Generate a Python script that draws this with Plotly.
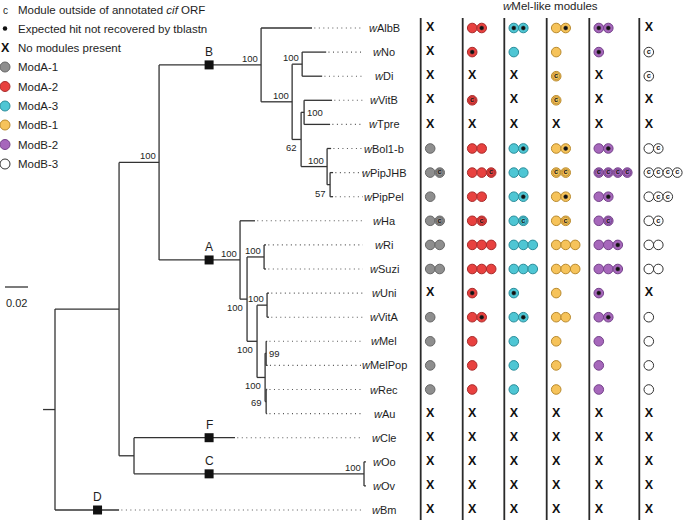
import plotly.graph_objects as go

# ---------------- data ----------------
taxa = ["wAlbB", "wNo", "wDi", "wVitB", "wTpre", "wBol1-b", "wPipJHB", "wPipPel",
        "wHa", "wRi", "wSuzi", "wUni", "wVitA", "wMel", "wMelPop", "wRec", "wAu",
        "wCle", "wOo", "wOv", "wBm"]

# (node, parent, branch length in substitutions/site)
tree_edges = [
    ("N1", "root", 0.0557), ("wBm", "root", 0.0557),
    ("N2", "N1", 0.0348), ("NFC", "N1", 0.0130),
    ("NB", "N2", 0.0887), ("NA", "N2", 0.0704),
    ("wAlbB", "NB", 0.0443), ("N3", "NB", 0.0270),
    ("N4", "N3", 0.0087), ("wNo", "N4", 0.0209), ("wDi", "N4", 0.0174),
    ("N5", "N3", 0.0078), ("N6", "N5", 0.0026),
    ("wVitB", "N6", 0.0243), ("wTpre", "N6", 0.0226),
    ("N7", "N5", 0.0226), ("wBol1-b", "N7", 0.0035), ("N8", "N7", 0.0026),
    ("wPipJHB", "N8", 0.0026), ("wPipPel", "N8", 0.0026),
    ("wHa", "NA", 0.0130), ("NRSM", "NA", 0.0061),
    ("NRS", "NRSM", 0.0148), ("wRi", "NRS", 0.0017), ("wSuzi", "NRS", 0.0017),
    ("NMel", "NRSM", 0.0087), ("NUV", "NMel", 0.0087),
    ("wUni", "NUV", 0.0017), ("wVitA", "NUV", 0.0017),
    ("M1", "NMel", 0.0070), ("MMP", "M1", 0.0009),
    ("wMel", "MMP", 0.0009), ("wMelPop", "MMP", 0.0013),
    ("M2", "M1", 0.0009), ("wRec", "M2", 0.0009), ("wAu", "M2", 0.0009),
    ("wCle", "NFC", 0.0878), ("NOO", "NFC", 0.2000),
    ("wOo", "NOO", 0.0017), ("wOv", "NOO", 0.0017),
]
root_stub = 0.0104

# node support values and where they sit relative to the node
support = {
    "N2": ("100", "above"), "NB": ("100", "above"), "N3": ("100", "above"),
    "N4": ("100", "above"), "N5": ("62", "below"), "N6": ("100", "right"),
    "N7": ("100", "above"), "N8": ("57", "below"), "NA": ("100", "above"),
    "NRSM": ("100", "below"), "NRS": ("100", "above"), "NUV": ("100", "above"),
    "NMel": ("100", "below"), "M1": ("100", "below"), "MMP": ("99", "right"),
    "M2": ("69", "left"), "NOO": ("100", "above"),
}

# clade markers: branch (child node), letter, depth of the square
clade_marks = [("NB", "B", 0.134), ("NA", "A", 0.134), ("wCle", "F", 0.134),
               ("NOO", "C", 0.134), ("wBm", "D", 0.037)]

modules = ["ModA-1", "ModA-2", "ModA-3", "ModB-1", "ModB-2", "ModB-3"]
# o = module, . = expected hit not recovered, c = outside cif ORF, X = none
modA1 = ["X", "X", "X", "X", "X", "o", "oc", "o", "oc", "oo", "oo", "X", "o", "o", "o", "o", "X", "X", "X", "X", "X"]
modA2 = ["o.", ".", "X", "c", "X", "oo", "ooc", "oo", "oc", "ooo", "ooo", ".", "o.", "o", "o", "o", "X", "X", "X", "X", "X"]
modA3 = ["..", "o", "X", "X", "X", "o.", "oo", "o.", "oc", "ooo", "ooo", ".", "o.", "o", "o", "o", "X", "X", "X", "X", "X"]
modB1 = ["o.", "o", "c", "c", "X", "o.", "cc", "o.", "oc", "ooo", "ooo", "o", "oo", "o", "o", "o", "X", "X", "X", "X", "X"]
modB2 = ["..", ".", "X", "X", "X", "o.", "cccc", "o.", "oc", "oo.", "oo.", ".", "o.", "o", "o", "o", "X", "X", "X", "X", "X"]
modB3 = ["X", "c", "c", "X", "X", "oc", "cccc", "occ", "oc", "oo", "oo", "X", "o", "o", "o", "o", "X", "X", "X", "X", "X"]
module_cells = [modA1, modA2, modA3, modB1, modB2, modB3]

module_fill = ["#8e8e8e", "#e8413f", "#4ec6d4", "#f6c35a", "#a667bb", "#ffffff"]
module_edge = ["#666666", "#a92b2b", "#2b8d9a", "#b98a2e", "#74428a", "#333333"]

legend_notes = ["Module outside of annotated <i>cif</i> ORF",
                "Expected hit not recovered by tblastn",
                "No modules present"]
scale_bar_len = 0.02
header = "<i>w</i>Mel-like modules"

# ---------------- layout helpers ----------------
W, H = 687, 520
ROW0, ROWH = 28.0, 24.1
PX_ROOT, PX_UNIT = 55.0, 1150.0
MX0, MSLOT = 420.7, 9.5
FONT = "Arial, Liberation Sans, Helvetica, sans-serif"
TREE_COL = "#333333"
TXT = "#1e1e1e"

def tx(px): return (px - PX_ROOT) / PX_UNIT
def ty(py): return (py - ROW0) / ROWH
def mx(px): return (px - MX0) / MSLOT

col_sep = [mx(p) for p in (420.7, 462.7, 504.3, 546.7, 589.3, 639.3)]

# ---------------- tree geometry ----------------
parent = {n: p for n, p, b in tree_edges}
blen = {n: b for n, p, b in tree_edges}
children = {}
for n, p, b in tree_edges:
    children.setdefault(p, []).append(n)

depth = {"root": 0.0}
def set_depth(n):
    for c in children.get(n, []):
        depth[c] = depth[n] + blen[c]
        set_depth(c)
set_depth("root")

ypos = {t: i for i, t in enumerate(taxa)}
def set_y(n):
    if n in ypos:
        return ypos[n]
    ys = [set_y(c) for c in children[n]]
    ypos[n] = (min(ys) + max(ys)) / 2
    return ypos[n]
set_y("root")

lx, ly = [], []
lx += [-root_stub, 0, None]; ly += [ypos["root"], ypos["root"], None]
for n, p, b in tree_edges:
    lx += [depth[p], depth[n], None]; ly += [ypos[n], ypos[n], None]
for n, ch in children.items():
    ys = [ypos[c] for c in ch]
    lx += [depth[n], depth[n], None]; ly += [min(ys), max(ys), None]

fig = go.Figure()
fig.add_trace(go.Scatter(x=lx, y=ly, mode="lines", line=dict(color=TREE_COL, width=1.3),
                         hoverinfo="skip", showlegend=False))

# dotted leaders
dot_end = tx(363)
dx, dy = [], []
for t in taxa:
    if depth[t] < dot_end - 0.001:
        dx += [depth[t] + 0.002, dot_end, None]; dy += [ypos[t], ypos[t], None]
fig.add_trace(go.Scatter(x=dx, y=dy, mode="lines",
                         line=dict(color="#555555", width=1.1, dash="1px,3.5px"),
                         hoverinfo="skip", showlegend=False))

# clade squares
fig.add_trace(go.Scatter(x=[d for n, l, d in clade_marks], y=[ypos[n] for n, l, d in clade_marks],
                         mode="markers", marker=dict(symbol="square", size=9, color="#111111"),
                         hoverinfo="skip", showlegend=False))

ann = []
for n, l, d in clade_marks:
    ann.append(dict(x=d, y=ypos[n], text=l, showarrow=False, yshift=13, xanchor="center",
                    yanchor="middle", font=dict(size=12, color=TXT, family=FONT)))

for n, (lab, pos) in support.items():
    a = dict(x=depth[n], y=ypos[n], text=lab, showarrow=False,
             font=dict(size=9.5, color=TXT, family=FONT))
    if pos == "above":
        a.update(xanchor="right", yanchor="bottom", xshift=-1, yshift=-1)
    elif pos == "below":
        a.update(xanchor="right", yanchor="top", xshift=-2, yshift=-1)
    elif pos == "right":
        a.update(xanchor="left", yanchor="middle", xshift=1)
    else:
        a.update(xanchor="right", yanchor="middle", xshift=-2, yshift=-1)
    ann.append(a)

# taxon labels
for t in taxa:
    ann.append(dict(x=tx(384), y=ypos[t], text="<i>w</i>" + t[1:], showarrow=False,
                    xanchor="center", yanchor="middle",
                    font=dict(size=11, color=TXT, family=FONT)))

# ---------------- module matrix ----------------
xs_X, ys_X, dotx, doty = [], [], [], []
for k, cells in enumerate(module_cells):
    cx, cy, ccx, ccy = [], [], [], []
    for i, cell in enumerate(cells):
        if cell == "X":
            xs_X.append(col_sep[k] + 1.0); ys_X.append(i)
            continue
        for s, ch in enumerate(cell):
            x = col_sep[k] + 1.0 + s
            cx.append(x); cy.append(i)
            if ch == ".":
                dotx.append(x); doty.append(i)
            elif ch == "c":
                ccx.append(x); ccy.append(i)
    fig.add_trace(go.Scatter(x=cx, y=cy, xaxis="x2", mode="markers",
                             marker=dict(size=9.6, color=module_fill[k],
                                         line=dict(color=module_edge[k], width=1)),
                             hoverinfo="skip", showlegend=False))
    if ccx:
        ring = 0.8 if module_fill[k] != "#ffffff" else 0
        fig.add_trace(go.Scatter(x=ccx, y=ccy, xaxis="x2", mode="markers+text",
                                 marker=dict(size=7, color="rgba(0,0,0,0)",
                                             line=dict(color=module_edge[k], width=ring)),
                                 text=["c"] * len(ccx), textposition="middle center",
                                 textfont=dict(size=7.5, color="#1a1a1a", family=FONT,
                                               weight="bold"),
                                 hoverinfo="skip", showlegend=False))

fig.add_trace(go.Scatter(x=dotx, y=doty, xaxis="x2", mode="markers",
                         marker=dict(size=4, color="#111111", line=dict(color="#333", width=0.5)),
                         hoverinfo="skip", showlegend=False))
fig.add_trace(go.Scatter(x=xs_X, y=ys_X, xaxis="x2", mode="text", text=["X"] * len(xs_X),
                         textposition="middle center",
                         textfont=dict(size=12.5, color="#111111", family=FONT, weight="bold"),
                         hoverinfo="skip", showlegend=False))

# column separators
sx, sy = [], []
for s in col_sep:
    sx += [s, s, None]; sy += [ty(18), ty(522), None]
fig.add_trace(go.Scatter(x=sx, y=sy, xaxis="x2", mode="lines",
                         line=dict(color="#2a2a2a", width=1.8),
                         hoverinfo="skip", showlegend=False))

ann.append(dict(x=mx(550), y=ty(6), xref="x2", text=header, showarrow=False,
                xanchor="center", yanchor="middle", font=dict(size=11.5, color=TXT, family=FONT)))

# ---------------- legend ----------------
leg_y = [10, 28.5, 47.5, 67, 86.5, 106, 125, 144.5, 164]
ann.append(dict(x=tx(5), y=ty(leg_y[0]), text="c", showarrow=False, xanchor="center",
                yanchor="middle", font=dict(size=10, color=TXT, family=FONT)))
fig.add_trace(go.Scatter(x=[tx(5)], y=[ty(leg_y[1])], mode="markers",
                         marker=dict(size=4.5, color="#111111"), hoverinfo="skip", showlegend=False))
ann.append(dict(x=tx(5), y=ty(leg_y[2]), text="<b>X</b>", showarrow=False, xanchor="center",
                yanchor="middle", font=dict(size=12.5, color="#111111", family=FONT)))
for j, txt in enumerate(legend_notes):
    ann.append(dict(x=tx(16), y=ty(leg_y[j]), text=txt, showarrow=False, xanchor="left",
                    yanchor="middle", font=dict(size=11.5, color=TXT, family=FONT)))
fig.add_trace(go.Scatter(x=[tx(5)] * len(modules), y=[ty(v) for v in leg_y[3:]], mode="markers",
                         marker=dict(size=10, color=module_fill,
                                     line=dict(color=module_edge, width=1)),
                         hoverinfo="skip", showlegend=False))
for j, m in enumerate(modules):
    ann.append(dict(x=tx(16), y=ty(leg_y[3 + j]), text=m, showarrow=False, xanchor="left",
                    yanchor="middle", font=dict(size=11.5, color=TXT, family=FONT)))

# scale bar
sb0 = tx(5)
fig.add_trace(go.Scatter(x=[sb0, sb0 + scale_bar_len], y=[ty(287), ty(287)], mode="lines",
                         line=dict(color=TREE_COL, width=1.3), hoverinfo="skip", showlegend=False))
ann.append(dict(x=sb0 + scale_bar_len / 2, y=ty(303), text=f"{scale_bar_len:.2f}", showarrow=False,
                xanchor="center", yanchor="middle", font=dict(size=11, color=TXT, family=FONT)))

fig.update_layout(
    width=W, height=H, margin=dict(l=0, r=0, t=0, b=0),
    paper_bgcolor="white", plot_bgcolor="white", annotations=ann,
    xaxis=dict(range=[tx(0), tx(W)], domain=[0, 1], visible=False, fixedrange=True),
    xaxis2=dict(range=[mx(0), mx(W)], domain=[0, 1], overlaying="x", visible=False, fixedrange=True),
    yaxis=dict(range=[ty(H), ty(0)], visible=False, fixedrange=True),
)

fig.write_html("out.html", config={"displayModeBar": False, "staticPlot": True},
               post_script="document.body.style.margin='0px';document.body.style.overflow='hidden';")
